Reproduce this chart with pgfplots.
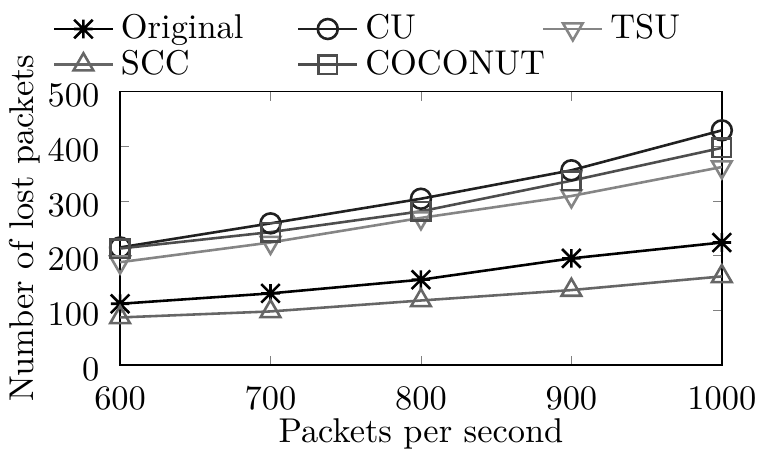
\documentclass[border=0pt]{standalone}
\usepackage{pgfplots}
\pgfplotsset{compat=1.18}
\pgfdeclareplotmark{gstar}{%
  \pgfpathmoveto{\pgfqpoint{0pt}{\pgfplotmarksize}}%
  \pgfpathlineto{\pgfqpoint{0pt}{-\pgfplotmarksize}}%
  \pgfpathmoveto{\pgfqpoint{\pgfplotmarksize}{0pt}}%
  \pgfpathlineto{\pgfqpoint{-\pgfplotmarksize}{0pt}}%
  \pgfpathmoveto{\pgfqpoint{\pgfplotmarksize}{\pgfplotmarksize}}%
  \pgfpathlineto{\pgfqpoint{-\pgfplotmarksize}{-\pgfplotmarksize}}%
  \pgfpathmoveto{\pgfqpoint{-\pgfplotmarksize}{\pgfplotmarksize}}%
  \pgfpathlineto{\pgfqpoint{\pgfplotmarksize}{-\pgfplotmarksize}}%
  \pgfusepathqstroke}
\definecolor{cOrig}{HTML}{000000}
\definecolor{cCU}{HTML}{202020}
\definecolor{cCOC}{HTML}{4D4D4D}
\definecolor{cSCC}{HTML}{666666}
\definecolor{cTSU}{HTML}{858585}
\newcommand{\lone}[1]{\makebox[49.2pt][l]{#1}}
\newcommand{\ltwo}[1]{\makebox[49.4pt][l]{#1}}
\begin{document}
\begin{tikzpicture}
\begin{axis}[name=ax,
  scale only axis, width=174.9pt, height=79.5pt,
  xmin=600, xmax=1000, ymin=0, ymax=500,
  xtick={600,700,800,900,1000}, ytick={0,100,200,300,400,500},
  /pgf/number format/1000 sep={},
  major tick length=2.7pt, tick align=inside,
  clip=false,
  xticklabel style={yshift=-3pt},
  yticklabel style={xshift=-2.5pt, yshift=-1.2pt},
  xlabel={Packets per second},
  ylabel={Number of lost packets},
  xlabel style={at={(axis description cs:0.5,-0.2816)}, anchor=base},
  ylabel style={at={(axis description cs:-0.1446,0.5)}, anchor=base},
  legend columns=3,
  legend cell align=left,
  legend style={draw=none, fill=none, inner xsep=0pt, inner ysep=0pt,
    at={(axis description cs:-0.113,1.31)}, anchor=north west,
    row sep=-2.2pt, column sep=0pt},
  every axis plot/.append style={line width=0.75pt, mark options={solid}},
]
\addplot[color=cOrig, mark=gstar, mark size=2.7pt] coordinates {(600,112) (700,131) (800,156) (900,195) (1000,224)};
\addplot[color=cCU, mark=o, mark size=2.9pt] coordinates {(600,215) (700,259) (800,304) (900,356) (1000,429)};
\addplot[color=cTSU, mark=triangle, mark size=3.3pt, mark options={rotate=180}] coordinates {(600,188) (700,224) (800,269) (900,309) (1000,362)};
\addplot[color=cSCC, mark=triangle, mark size=3.3pt] coordinates {(600,87) (700,98) (800,118) (900,137) (1000,162)};
\addplot[color=cCOC, mark=square, mark size=2.7pt] coordinates {(600,213) (700,243) (800,281) (900,337) (1000,397)};
\legend{\lone{Original}, \ltwo{CU}, TSU, \lone{SCC}, \ltwo{COCONUT}}
\end{axis}
\pgfresetboundingbox
\path[use as bounding box] (ax.south west) ++(-34.9pt,-25pt) rectangle ++(220.6pt,131.1pt);
\end{tikzpicture}
\end{document}
